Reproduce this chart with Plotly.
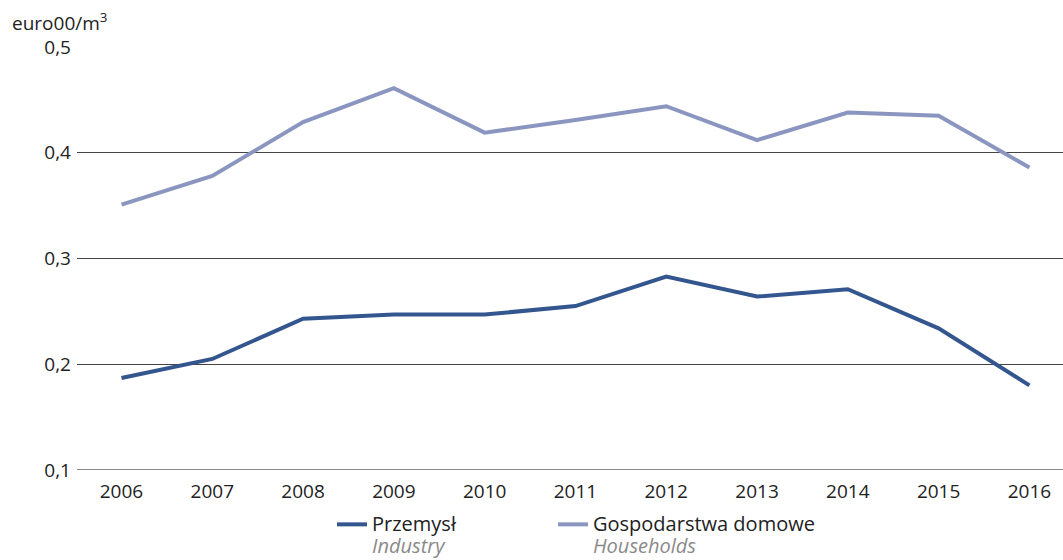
import plotly.graph_objects as go

years = [2006, 2007, 2008, 2009, 2010, 2011, 2012, 2013, 2014, 2015, 2016]
industry = [0.187, 0.205, 0.243, 0.247, 0.247, 0.255, 0.283, 0.264, 0.271, 0.234, 0.180]
households = [0.351, 0.378, 0.429, 0.461, 0.419, 0.431, 0.444, 0.412, 0.438, 0.435, 0.386]
y_ticks = [0.1, 0.2, 0.3, 0.4, 0.5]
y_labels = ["0,1", "0,2", "0,3", "0,4", "0,5"]

font = "Open Sans, Noto Sans, sans-serif"
# two-line legend label: Polish name, English name in grey italics
label = ("<span style='font-size:20px'>{}</span><br>"
         "<span style='font-size:20px;color:#8a8a8a'><i>{}</i></span>")

fig = go.Figure()
fig.add_scatter(x=years, y=industry, mode="lines", legend="legend",
                name=label.format("Przemysł", "Industry"),
                line=dict(color="#34568f", width=4))
fig.add_scatter(x=years, y=households, mode="lines", legend="legend2",
                name=label.format("Gospodarstwa domowe", "Households"),
                line=dict(color="#8a96c0", width=4))

fig.update_xaxes(range=[2005.51, 2016.37], tickvals=years, showgrid=False,
                 zeroline=False, ticks="", showline=False,
                 ticklabelstandoff=8, tickfont=dict(size=19, color="#222"))
fig.update_yaxes(range=[0.1, 0.5], tickvals=y_ticks, ticktext=y_labels,
                 showgrid=True, gridcolor="#444", gridwidth=1,
                 zeroline=False, showline=False, ticks="",
                 ticklabelstandoff=5, tickfont=dict(size=19, color="#222"))

fig.add_hline(y=0.1, line=dict(color="#888", width=2), layer="below")

fig.add_annotation(text="euro00/m<sup>3</sup>", xref="paper", yref="paper",
                   x=-0.068, y=1.06, xanchor="left", yanchor="middle",
                   showarrow=False, font=dict(size=19, color="#222"))

leg = dict(orientation="h", yanchor="top", xanchor="left", valign="top",
           font=dict(size=17), bgcolor="rgba(0,0,0,0)", y=-0.087)
fig.update_layout(
    width=1063, height=560,
    margin=dict(l=77, r=0, t=47, b=90, autoexpand=False),
    plot_bgcolor="white", paper_bgcolor="white",
    font=dict(family=font, size=19, color="#222"),
    showlegend=True,
    legend=dict(leg, x=(332 - 77) / 986),
    legend2=dict(leg, x=(553 - 77) / 986),
)

fig.write_html("out.html", config={"displayModeBar": False},
               post_script="document.body.style.margin='0';")
